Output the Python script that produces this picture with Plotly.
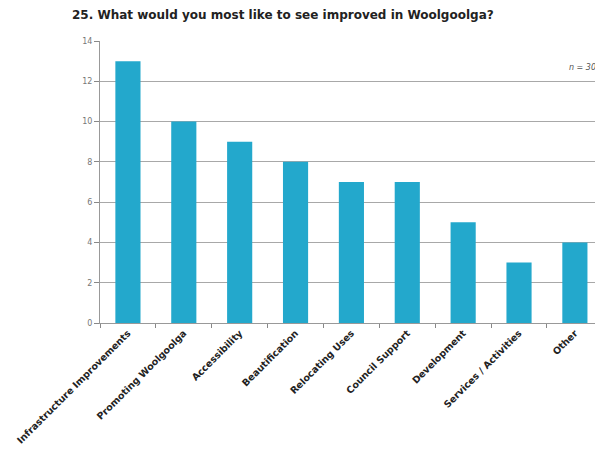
import plotly.graph_objects as go

categories = [
    "Infrastructure Improvements", "Promoting Woolgoolga", "Accessibility",
    "Beautification", "Relocating Uses", "Council Support", "Development",
    "Services / Activities", "Other",
]
counts = [13, 10, 9, 8, 7, 7, 5, 3, 4]
y_ticks = [0, 2, 4, 6, 8, 10, 12, 14]

fig = go.Figure(
    go.Bar(
        x=categories,
        y=counts,
        width=0.45,
        marker=dict(color="#23a8cc", line=dict(width=0)),
    )
)

fig.update_layout(
    width=595,
    height=450,
    margin=dict(l=100, r=0, t=41, b=127),
    paper_bgcolor="white",
    plot_bgcolor="white",
    showlegend=False,
    title=dict(
        text="<b>25. What would you most like to see improved in Woolgoolga?</b>",
        x=72 / 595, xanchor="left", xref="container",
        y=1 - 15 / 450, yanchor="middle", yref="container",
        font=dict(family="DejaVu Sans", size=12, color="#222222"),
    ),
    annotations=[
        dict(
            text="<i>n = 30</i>", xref="paper", yref="paper",
            x=(567 - 100) / 495, y=12.35 / 14, xanchor="left", yanchor="bottom",
            showarrow=False, font=dict(family="DejaVu Sans", size=8, color="#555555"),
        )
    ],
)

fig.update_xaxes(
    range=[-0.5, 8.36],
    tickangle=-45,
    tickson="boundaries",
    ticks="outside",
    ticklen=4,
    tickcolor="#888888",
    showline=True,
    linecolor="#999999",
    linewidth=1,
    showgrid=False,
    tickfont=dict(family="DejaVu Sans", size=9.5, color="#222222", weight="bold"),
)
fig.update_yaxes(
    range=[0, 14],
    tickvals=y_ticks,
    ticks="outside",
    ticklen=5,
    tickcolor="#888888",
    showline=True,
    linecolor="#999999",
    linewidth=1,
    showgrid=True,
    gridcolor="#a8a8a8",
    gridwidth=1,
    zeroline=False,
    tickfont=dict(family="DejaVu Sans", size=8, color="#777777"),
)

fig.write_html("out.html")
